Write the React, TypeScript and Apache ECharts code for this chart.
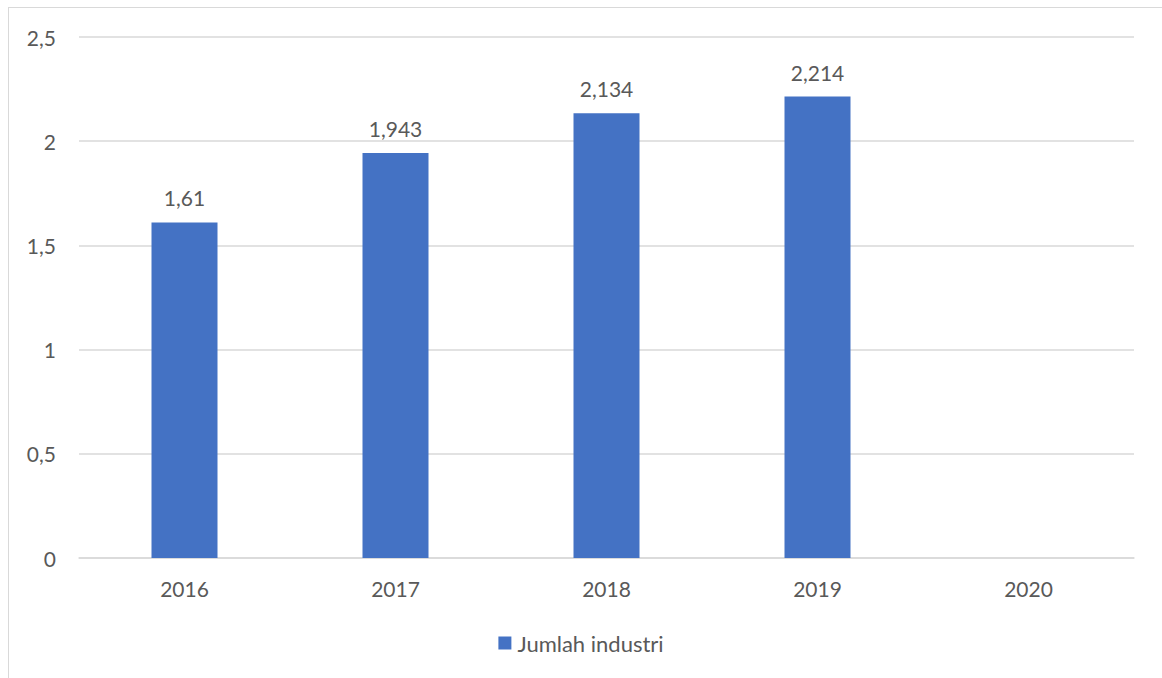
import React, { useEffect, useRef } from "react";
import * as echarts from "echarts";

const categories = ["2016", "2017", "2018", "2019", "2020"];
const values: (number | null)[] = [1.61, 1.943, 2.134, 2.214, null];
const seriesName = "Jumlah industri";

const FONT = "Lato, 'Open Sans', sans-serif";
const TEXT = "#595959";
const GRID = "#d9d9d9";
const FS = 21;

export default function App() {
  const ref = useRef<HTMLDivElement>(null);
  useEffect(() => {
    if (!ref.current) return;
    const chart = echarts.init(ref.current, null, { renderer: "svg" });
    chart.setOption({
      animation: false,
      textStyle: { fontFamily: FONT },
      grid: { left: 79, right: 28, top: 37, bottom: 120 },
      legend: {
        show: true,
        top: 627,
        left: "center",
        itemWidth: 13,
        itemHeight: 13,
        icon: "rect",
        itemGap: 10,
        textStyle: { color: TEXT, fontSize: 22, fontFamily: FONT, padding: [0, 0, 0, 1] },
        data: [seriesName],
      },
      xAxis: {
        type: "category",
        data: categories,
        axisLine: { lineStyle: { color: GRID, width: 1.5 } },
        axisTick: { show: false },
        axisLabel: { color: TEXT, fontSize: FS, margin: 20, fontFamily: FONT },
      },
      yAxis: {
        type: "value",
        min: 0,
        max: 2.5,
        interval: 0.5,
        axisLine: { show: false },
        axisTick: { show: false },
        splitLine: { lineStyle: { color: GRID, width: 1.5 } },
        axisLabel: {
          color: TEXT,
          fontSize: FS,
          margin: 23,
          fontFamily: FONT,
          formatter: (v: number) => String(v).replace(".", ","),
        },
      },
      series: [
        {
          name: seriesName,
          type: "bar",
          data: values,
          barWidth: 66,
          itemStyle: { color: "#4472c4" },
          label: {
            show: true,
            position: "top",
            distance: 14,
            color: TEXT,
            fontSize: FS,
            fontFamily: FONT,
            formatter: (p: any) => String(p.value).replace(".", ","),
          },
        },
      ],
    });
    return () => chart.dispose();
  }, []);
  return (
    <div style={{ position: "fixed", left: 0, top: 0, width: 1162, height: 678, overflow: "hidden", background: "#fff" }}>
      <div
        style={{
          position: "absolute",
          left: 8,
          top: 7,
          width: 1300,
          height: 800,
          borderLeft: "1.5px solid #d9d9d9",
          borderTop: "1.5px solid #d9d9d9",
        }}
      />
      <div ref={ref} style={{ position: "absolute", left: 0, top: 0, width: 1162, height: 678 }} />
    </div>
  );
}
